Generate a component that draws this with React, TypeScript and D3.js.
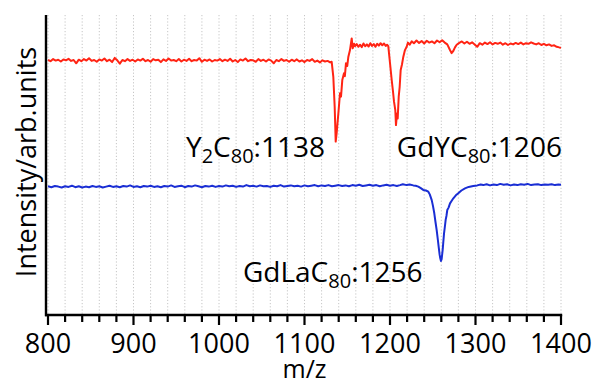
import React from "react";
import * as d3 from "d3";

// m/z and intensity (arb. units)
const redSpectrum: [number, number][] = [
  [800, 85.0], [803, 84.6], [806, 85.3], [809, 84.8], [812, 85.1], [815, 84.5], [818, 85.2], [821, 84.9],
  [824, 85.4], [827, 84.7], [830, 85.0], [833, 83.9], [836, 85.1], [839, 84.6], [842, 85.3], [845, 84.8],
  [848, 85.6], [851, 84.7], [854, 85.0], [857, 84.4], [860, 85.2], [863, 84.8], [866, 85.5], [869, 84.6],
  [872, 85.1], [875, 84.3], [878, 85.7], [881, 84.9], [884, 83.8], [887, 85.0], [890, 84.6], [893, 85.3],
  [896, 84.7], [899, 85.1], [902, 84.5], [905, 85.2], [908, 84.8], [911, 85.4], [914, 84.6], [917, 85.0],
  [920, 84.4], [923, 85.3], [926, 84.9], [929, 85.1], [932, 84.3], [935, 85.2], [938, 84.7], [941, 85.5],
  [944, 84.8], [947, 85.0], [950, 84.6], [953, 85.3], [956, 84.5], [959, 85.1], [962, 84.7], [965, 85.4],
  [968, 84.6], [971, 85.0], [974, 84.8], [977, 85.6], [980, 84.4], [983, 85.1], [986, 84.7], [989, 85.2],
  [992, 84.5], [995, 85.0], [998, 84.8], [1001, 85.3], [1004, 84.6], [1007, 85.1], [1010, 84.7], [1013, 85.4],
  [1016, 84.5], [1019, 85.0], [1022, 84.3], [1025, 85.2], [1028, 84.8], [1031, 85.5], [1034, 84.6], [1037, 85.0],
  [1040, 84.9], [1043, 84.4], [1046, 85.3], [1049, 84.7], [1052, 85.1], [1055, 84.5], [1058, 85.2], [1061, 84.8],
  [1064, 83.9], [1067, 85.0], [1070, 84.6], [1073, 85.3], [1076, 84.7], [1079, 85.0], [1082, 84.4], [1085, 85.1],
  [1088, 84.6], [1091, 85.2], [1094, 84.5], [1097, 84.9], [1100, 84.3], [1103, 85.0], [1106, 84.7], [1109, 85.3],
  [1112, 84.4], [1115, 84.8], [1118, 84.2], [1121, 84.9], [1124, 84.5], [1127, 84.7], [1130, 84.2], [1131.8, 84.4],
  [1133.7, 79.4], [1135.3, 69.4], [1136.5, 57.8], [1137.6, 60.6], [1139.6, 67.2], [1141.5, 73.9], [1142.7, 72.8],
  [1144.2, 78.3], [1146.2, 80.6], [1147.2, 79.6], [1148.5, 83.9], [1150, 83.0], [1151.3, 86.1], [1153.2, 88.3],
  [1155.2, 92.2], [1156.4, 88.9], [1158, 90.4], [1159.1, 89.6], [1161, 90.3], [1163, 89.4], [1165, 90.1],
  [1167, 89.3], [1169, 90.5], [1171, 89.6], [1173, 90.2], [1175, 89.5], [1177, 90.6], [1179, 89.7], [1181, 90.3],
  [1183, 89.4], [1185, 90.4], [1187, 89.8], [1189, 90.6], [1191, 89.9], [1193, 90.5], [1195, 89.7], [1196.5, 90.1],
  [1198, 89.6], [1200, 84.0], [1202, 78.3], [1203.5, 74.5], [1204.7, 71.1], [1206.2, 68.3], [1207, 63.3],
  [1208.2, 67.2], [1209, 65.5], [1210.2, 72.8], [1211.3, 76.0], [1212.5, 81.7], [1214, 83.5], [1215.6, 86.1],
  [1217.5, 88.3], [1219.5, 89.4], [1221, 90.8], [1223, 90.1], [1225.4, 91.2], [1228, 90.6], [1231, 91.5],
  [1234, 90.7], [1237, 91.3], [1240, 90.5], [1243, 91.4], [1246, 90.8], [1249, 91.2], [1252, 90.6], [1255, 91.5],
  [1258, 90.9], [1261, 91.6], [1264, 90.8], [1267, 90.2], [1270, 88.4], [1272, 87.3], [1274, 88.0], [1276, 89.2],
  [1278, 90.1], [1281, 90.7], [1284, 91.2], [1287, 90.5], [1290, 91.1], [1293, 90.4], [1296, 90.9], [1299, 90.2],
  [1302, 89.4], [1305, 90.6], [1308, 90.1], [1311, 90.8], [1314, 90.3], [1317, 90.9], [1320, 90.2], [1323, 90.7],
  [1326, 90.4], [1329, 90.8], [1332, 90.1], [1335, 90.6], [1338, 90.0], [1341, 90.5], [1344, 90.2], [1347, 90.7],
  [1350, 90.3], [1353, 90.8], [1356, 90.2], [1359, 90.6], [1362, 90.4], [1365, 90.9], [1368, 90.5], [1371, 90.2],
  [1374, 90.6], [1377, 90.0], [1380, 90.4], [1383, 89.9], [1386, 90.2], [1389, 89.7], [1392, 89.9], [1395, 89.4],
  [1398, 89.2], [1400, 89.1],
];

const blueSpectrum: [number, number][] = [
  [800, 42.9], [804, 42.6], [808, 43.0], [812, 42.8], [816, 42.5], [820, 42.9], [824, 42.7], [828, 43.1],
  [832, 42.6], [836, 42.9], [840, 42.5], [844, 42.8], [848, 42.6], [852, 43.0], [856, 42.7], [860, 42.9],
  [864, 42.5], [868, 42.8], [872, 43.1], [876, 42.7], [880, 42.9], [884, 42.6], [888, 43.0], [892, 42.8],
  [896, 43.2], [900, 42.7], [904, 42.9], [908, 42.6], [912, 43.0], [916, 42.8], [920, 43.1], [924, 42.7],
  [928, 42.9], [932, 42.6], [936, 43.0], [940, 42.8], [944, 43.2], [948, 42.7], [952, 42.9], [956, 43.1],
  [960, 42.6], [964, 43.0], [968, 42.8], [972, 43.2], [976, 42.9], [980, 42.6], [984, 43.0], [988, 42.8],
  [992, 43.1], [996, 42.7], [1000, 43.0], [1004, 42.8], [1008, 43.2], [1012, 42.9], [1016, 43.1], [1020, 42.7],
  [1024, 43.0], [1028, 42.8], [1032, 43.3], [1036, 42.9], [1040, 43.1], [1044, 42.8], [1048, 43.2], [1052, 42.9],
  [1056, 43.0], [1060, 42.7], [1064, 43.1], [1068, 42.9], [1072, 43.3], [1076, 42.8], [1080, 43.0], [1084, 43.2],
  [1088, 42.9], [1092, 43.1], [1096, 42.8], [1100, 43.2], [1104, 42.9], [1108, 43.1], [1112, 43.3], [1116, 42.9],
  [1120, 43.2], [1124, 43.0], [1128, 43.3], [1132, 42.9], [1136, 43.1], [1140, 43.3], [1144, 43.0], [1148, 43.2],
  [1152, 42.9], [1156, 43.3], [1160, 43.1], [1164, 43.4], [1168, 43.0], [1172, 43.2], [1176, 43.4], [1180, 43.1],
  [1184, 43.3], [1188, 42.9], [1192, 43.2], [1196, 43.4], [1200, 43.1], [1204, 43.3], [1208, 43.0], [1211.7, 43.3],
  [1215, 43.6], [1219.5, 43.3], [1223, 43.5], [1227.3, 43.2], [1230, 43.1], [1233.1, 42.8], [1236, 42.3],
  [1238.9, 41.7], [1242, 41.5], [1244.8, 41.1], [1246.5, 40.2], [1248.8, 38.3], [1250.3, 36.3], [1251.8, 33.9],
  [1253.2, 31.0], [1254.6, 28.3], [1256, 25.0], [1256.9, 22.8], [1258, 20.2], [1258.8, 18.9], [1259.6, 18.0],
  [1260.4, 18.6], [1261.6, 21.7], [1262.4, 24.5], [1263.2, 27.2], [1264.2, 29.5], [1265.1, 31.7], [1266, 33.0],
  [1267, 35.0], [1268.5, 35.8], [1270.2, 37.2], [1272, 38.0], [1274.1, 38.9], [1277, 39.9], [1279.9, 40.6],
  [1283.5, 41.5], [1287.7, 42.2], [1292, 42.7], [1297.4, 43.0], [1302, 43.2], [1306, 43.5], [1309.1, 43.3],
  [1313, 43.6], [1317, 43.2], [1321, 43.5], [1325, 43.3], [1329, 43.7], [1333, 43.4], [1337, 43.6], [1341, 43.2],
  [1345, 43.5], [1349, 43.3], [1353, 43.6], [1357, 43.4], [1361, 43.7], [1365, 43.3], [1369, 43.5], [1373, 43.6],
  [1377, 43.3], [1381, 43.5], [1385, 43.4], [1389, 43.6], [1393, 43.3], [1397, 43.5], [1400, 43.4],
];

const majorTicks = [800, 900, 1000, 1100, 1200, 1300, 1400];

// peak labels, anchored in data units
const peakLabels = [
  { pre: "Y", sub1: "2", mid: "C", sub2: "80", mass: ":1138", mz: 1124, y: 52.7, anchor: "end" },
  { pre: "GdY", sub1: "", mid: "C", sub2: "80", mass: ":1206", mz: 1208, y: 52.7, anchor: "start" },
  { pre: "GdLa", sub1: "", mid: "C", sub2: "80", mass: ":1256", mz: 1028, y: 11, anchor: "start" },
];

const W = 595;
const H = 385;
const FONT = '"Open Sans", "Noto Sans", sans-serif';

const App: React.FC = () => {
  const x = d3.scaleLinear().domain([800, 1400]).range([48, 561]);
  const y = d3.scaleLinear().domain([0, 100]).range([315, 15]);
  const minorTicks = d3.range(800, 1401, 20);

  const line = d3
    .line<[number, number]>()
    .x((d) => x(d[0]))
    .y((d) => y(d[1]));

  return (
    <svg
      width={W}
      height={H}
      viewBox={`0 0 ${W} ${H}`}
      style={{ position: "absolute", left: 0, top: 0, background: "#fff" }}
    >
      {/* dotted vertical grid */}
      {minorTicks.map((t) => (
        <line
          key={"g" + t}
          x1={x(t)}
          x2={x(t)}
          y1={y(100)}
          y2={y(0)}
          stroke="#b8b8b8"
          strokeWidth={0.8}
          strokeDasharray="1.2,2"
        />
      ))}

      <path d={line(redSpectrum) ?? ""} fill="none" stroke="#ff2414" strokeWidth={2} strokeLinejoin="round" />
      <path d={line(blueSpectrum) ?? ""} fill="none" stroke="#1a2ed4" strokeWidth={2} strokeLinejoin="round" />

      {/* axes */}
      <line x1={46} x2={46} y1={y(100)} y2={y(0) + 1.2} stroke="#000" strokeWidth={2.4} />
      <line x1={45} x2={x(1400) + 1.2} y1={y(0)} y2={y(0)} stroke="#000" strokeWidth={2.4} />
      {minorTicks.map((t) => (
        <line
          key={"t" + t}
          x1={x(t)}
          x2={x(t)}
          y1={y(0)}
          y2={y(0) + (majorTicks.includes(t) ? 10 : 7)}
          stroke="#000"
          strokeWidth={2.2}
        />
      ))}
      {majorTicks.map((t) => (
        <text
          key={"l" + t}
          x={x(t)}
          y={353}
          textAnchor="middle"
          fontFamily={FONT}
          fontSize={27}
          fill="#000"
        >
          {t}
        </text>
      ))}
      <text x={(x(800) + x(1400)) / 2} y={378} textAnchor="middle" fontFamily={FONT} fontSize={25} fill="#000">
        m/z
      </text>
      <text
        transform={`translate(36,162) rotate(-90)`}
        textAnchor="middle"
        fontFamily={FONT}
        fontSize={27}
        fill="#000"
      >
        Intensity/arb.units
      </text>

      {/* peak annotations */}
      {peakLabels.map((p) => (
        <text
          key={p.mass}
          x={x(p.mz)}
          y={y(p.y)}
          textAnchor={p.anchor as "start" | "end"}
          fontFamily={FONT}
          fontSize={28}
          fill="#000"
        >
          {p.pre}
          {p.sub1 && (
            <tspan fontSize={20} dy={6}>
              {p.sub1}
            </tspan>
          )}
          <tspan dy={p.sub1 ? -6 : 0}>{p.mid}</tspan>
          <tspan fontSize={20} dy={6}>
            {p.sub2}
          </tspan>
          <tspan dy={-6}>{p.mass}</tspan>
        </text>
      ))}
    </svg>
  );
};

export default App;
